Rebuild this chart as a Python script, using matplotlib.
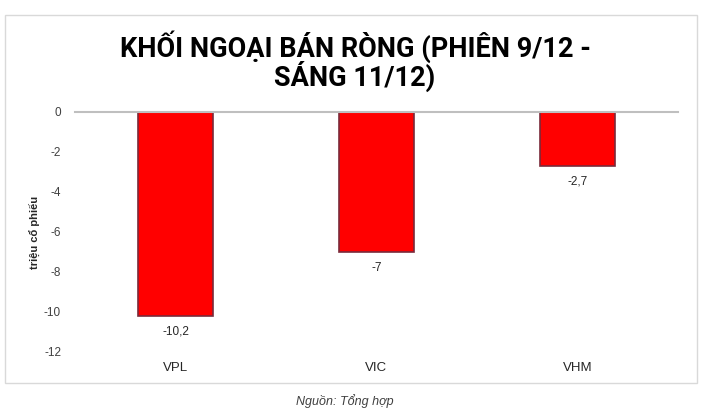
import matplotlib.pyplot as plt
from matplotlib.patches import Rectangle

# Du lieu
ma_cp = ['VPL', 'VIC', 'VHM']
gia_tri = [-10.2, -7, -2.7]
nhan = ['-10,2', '-7', '-2,7']
y_ticks = [0, -2, -4, -6, -8, -10, -12]

plt.rcParams['font.family'] = ['Liberation Sans', 'DejaVu Sans']

fig = plt.figure(figsize=(7.03, 4.17), dpi=100)
ax = fig.add_axes([75/703, 1 - 352/417, (678 - 75)/703, 240/417])

# khung vien xam
fig.patches.append(Rectangle((5/703, 1 - 383/417), 692/703, 368/417, transform=fig.transFigure,
                             fill=False, edgecolor='#d9d9d9', linewidth=1))

x = range(len(ma_cp))
bars = ax.bar(x, gia_tri, width=0.37, color='#ff0000', edgecolor='#7a2a3a', linewidth=1.2)

for i, v in enumerate(gia_tri):
    ax.text(i, v - 0.5, nhan[i], ha='center', va='top', fontsize=8.5, color='#262626')

ax.set_xlim(-0.5, 2.5)
ax.set_ylim(-12, 0)
ax.set_yticks(y_ticks)
ax.set_yticklabels([str(t) for t in y_ticks])
ax.set_xticks([])
ax.tick_params(axis='y', length=0, labelsize=8.5, labelcolor='#404040', pad=10)

for s in ['left', 'right', 'bottom']:
    ax.spines[s].set_visible(False)
ax.spines['top'].set_color('#bfbfbf')
ax.spines['top'].set_linewidth(1.5)

# nhan truc x nam o duoi
for i, c in enumerate(ma_cp):
    ax.text(i, -12.8, c, ha='center', va='center', fontsize=9.5, color='#262626')

fig.text(35/703, 1 - 232/417, 'triệu cổ phiếu', rotation=90, ha='center', va='center',
         fontsize=8, fontweight='bold', color='#262626')

fig.text(355/703, 1 - 47/417, 'KHỐI NGOẠI BÁN RÒNG (PHIÊN 9/12 -', ha='center', va='center',
         fontsize=19.5, fontweight='bold', family=['Roboto', 'DejaVu Sans'], color='#000000')
fig.text(355/703, 1 - 76/417, 'SÁNG 11/12)', ha='center', va='center',
         fontsize=19.5, fontweight='bold', family=['Roboto', 'DejaVu Sans'], color='#000000')

fig.text(345/703, 1 - 401/417, 'Nguồn: Tổng hợp', ha='center', va='center',
         fontsize=9, style='italic', color='#404040')

fig.savefig('out.png', dpi=100, facecolor='white')
